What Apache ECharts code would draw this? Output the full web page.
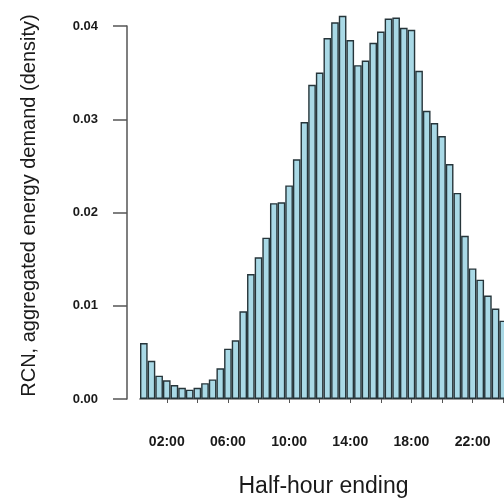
<!DOCTYPE html>
<html>
<head>
<meta charset="utf-8">
<script src="https://cdn.jsdelivr.net/npm/echarts@6/dist/echarts.min.js"></script>
<style>
  html, body { margin: 0; padding: 0; background: #fff; }
  #chart { width: 504px; height: 502px; }
</style>
</head>
<body>
<div id="chart"></div>
<script>
// Half-hour periods (period ending time)
const halfHours = [
  '00:30','01:00','01:30','02:00','02:30','03:00','03:30','04:00',
  '04:30','05:00','05:30','06:00','06:30','07:00','07:30','08:00',
  '08:30','09:00','09:30','10:00','10:30','11:00','11:30','12:00',
  '12:30','13:00','13:30','14:00','14:30','15:00','15:30','16:00',
  '16:30','17:00','17:30','18:00','18:30','19:00','19:30','20:00',
  '20:30','21:00','21:30','22:00','22:30','23:00','23:30','24:00'
];

// Density of aggregated energy demand per half-hour
const density = [
  0.0060, 0.0041, 0.0025, 0.0020, 0.0015, 0.0012, 0.0010, 0.0012,
  0.0017, 0.0021, 0.0033, 0.0054, 0.0063, 0.0094, 0.0134, 0.0152,
  0.0173, 0.0210, 0.0211, 0.0229, 0.0257, 0.0297, 0.0337, 0.0350,
  0.0387, 0.0404, 0.0411, 0.0385, 0.0358, 0.0363, 0.0382, 0.0394,
  0.0408, 0.0409, 0.0398, 0.0396, 0.0352, 0.0309, 0.0296, 0.0282,
  0.0252, 0.0221, 0.0175, 0.0140, 0.0128, 0.0111, 0.0097, 0.0084
];

// Labelled times along the x axis
const timeLabels = ['02:00', '06:00', '10:00', '14:00', '18:00', '22:00'];
// Density tick values
const densityTicks = [0.00, 0.01, 0.02, 0.03, 0.04];

const FONT = 'Liberation Sans, Arial, Helvetica, sans-serif';

const chart = echarts.init(document.getElementById('chart'));
chart.setOption({
  animation: false,
  backgroundColor: '#ffffff',
  grid: {
    left: 140, top: 26, width: 367, height: 373,
    containLabel: false,
    outerBoundsMode: 'none'
  },
  xAxis: {
    type: 'category',
    data: halfHours,
    boundaryGap: true,
    offset: 3,
    name: 'Half-hour ending',
    nameLocation: 'middle',
    nameGap: 73,
    nameTextStyle: { fontFamily: FONT, fontSize: 23, color: '#1a1a1a' },
    axisLine: { show: true, lineStyle: { color: '#9a9a9a', width: 2 } },
    axisTick: {
      show: true,
      alignWithLabel: true,
      length: 4,
      interval: (i) => i % 4 === 3,
      lineStyle: { color: '#555', width: 1 }
    },
    axisLabel: {
      interval: (i, v) => timeLabels.indexOf(v) !== -1,
      margin: 33,
      fontFamily: FONT,
      fontSize: 14,
      fontWeight: 'bold',
      color: '#1a1a1a'
    },
    splitLine: { show: false }
  },
  yAxis: {
    type: 'value',
    min: densityTicks[0],
    max: densityTicks[densityTicks.length - 1],
    interval: 0.01,
    offset: 13,
    name: 'RCN, aggregated energy demand (density)',
    nameLocation: 'middle',
    nameGap: 88,
    nameTextStyle: {
      fontFamily: FONT, fontSize: 20, color: '#1a1a1a',
      padding: [0, 0, 0, 14]
    },
    axisLine: { show: true, lineStyle: { color: '#555', width: 1.5 } },
    axisTick: { show: true, length: 14, lineStyle: { color: '#555', width: 1.5 } },
    axisLabel: {
      margin: 29,
      fontFamily: FONT,
      fontSize: 13,
      fontWeight: 'bold',
      color: '#1a1a1a',
      formatter: (v) => v.toFixed(2)
    },
    splitLine: { show: false }
  },
  series: [{
    type: 'bar',
    data: density,
    clip: false,
    barCategoryGap: '0%',
    itemStyle: {
      color: '#a9d9e6',
      borderColor: '#26353a',
      borderWidth: 1.4
    }
  }]
});
</script>
</body>
</html>
